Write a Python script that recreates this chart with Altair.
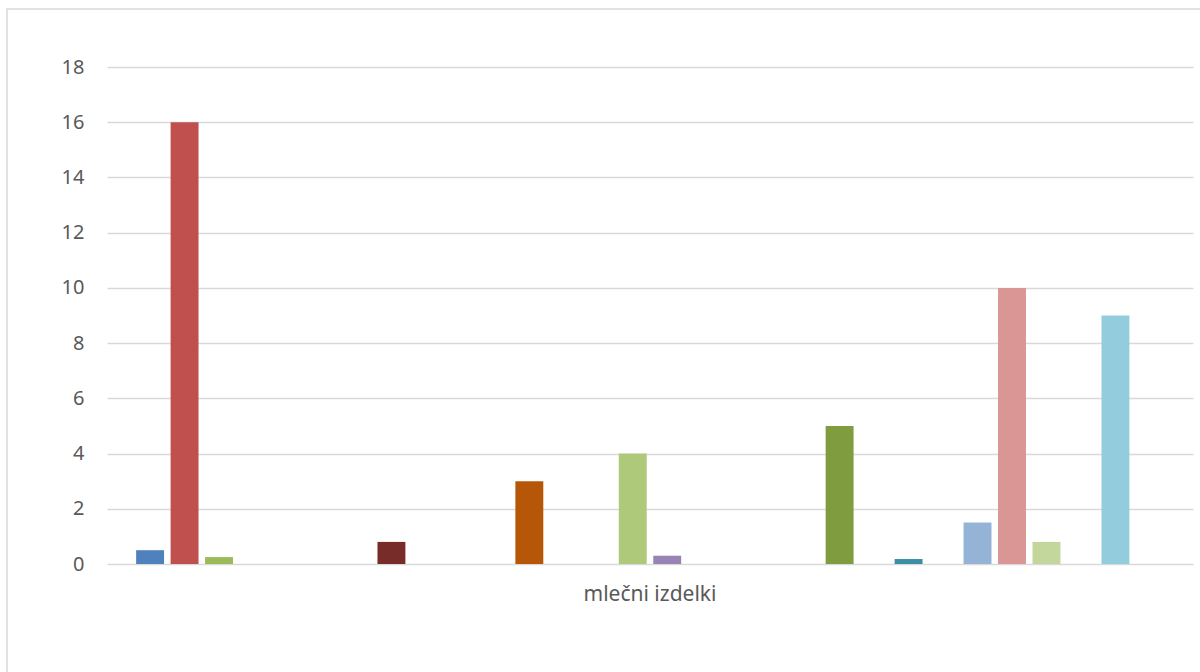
import altair as alt
import pandas as pd

# One category, thirty series (clustered column chart)
category = "mlečni izdelki"
series = [f"Serija {i + 1}" for i in range(30)]
values = [0.5, 16, 0.25, 0, 0, 0,
          0, 0.8, 0, 0, 0, 3,
          0, 0, 4, 0.3, 0, 0,
          0, 0, 5, 0, 0.18, 0,
          1.5, 10, 0.8, 0, 9, 0]
colors = ["#4F81BD", "#C0504D", "#9BBB59", "#8064A2", "#4BACC6", "#F79646",
          "#2C4D75", "#772C2A", "#5F7530", "#4D3B62", "#276A7C", "#B65708",
          "#729ACA", "#CD7371", "#AFC97A", "#9983B5", "#6FBDD1", "#F9AB6B",
          "#3A5F8B", "#A0403E", "#7F9C3F", "#664F82", "#3A8FA6", "#C77A34",
          "#95B3D7", "#D99694", "#C3D69B", "#B3A2C7", "#93CDDD", "#FAC090"]
y_ticks = list(range(0, 19, 2))

df = pd.DataFrame({"kategorija": category, "serija": series, "vrednost": values})

W, H = 1086, 497
LEFT, TOP = 107, 67
TEXT = "#595959"
GRID = "#D9D9D9"
FONT = "Noto Sans"

bars = alt.Chart(df).mark_bar().encode(
    x=alt.X(
        "kategorija:N",
        title=None,
        scale=alt.Scale(paddingInner=0, paddingOuter=0.025),
        axis=alt.Axis(labelAngle=0, ticks=False, domain=False, grid=False,
                      labelFontSize=21, labelColor=TEXT, labelFont=FONT,
                      labelPadding=19),
    ),
    xOffset=alt.XOffset(
        "serija:N",
        sort=series,
        scale=alt.Scale(domain=series, paddingInner=0.19, paddingOuter=0.095),
    ),
    y=alt.Y(
        "vrednost:Q",
        title=None,
        scale=alt.Scale(domain=[0, 18], nice=False),
        axis=alt.Axis(values=y_ticks, ticks=False, domain=False, grid=True,
                      gridColor=GRID, gridWidth=1.6,
                      labelFontSize=20, labelColor=TEXT, labelFont=FONT,
                      labelPadding=23),
    ),
    color=alt.Color("serija:N", scale=alt.Scale(domain=series, range=colors),
                    legend=None),
)

# Chart-area frame
frame = alt.Chart(pd.DataFrame({"f": [0]})).mark_rect(
    fillOpacity=0, stroke=GRID, strokeWidth=1.5
).encode(
    x=alt.value(7 - LEFT), x2=alt.value(1220 - LEFT),
    y=alt.value(9 - TOP), y2=alt.value(700 - TOP),
)

chart = alt.layer(frame, bars).properties(
    width=W, height=H,
    autosize=alt.AutoSizeParams(type="none"),
    padding={"left": LEFT, "top": TOP, "right": 1200 - LEFT - W, "bottom": 672 - TOP - H},
    background="white",
).configure_view(strokeWidth=0)

chart.save("out.html", embed_options={"renderer": "svg", "actions": False})
